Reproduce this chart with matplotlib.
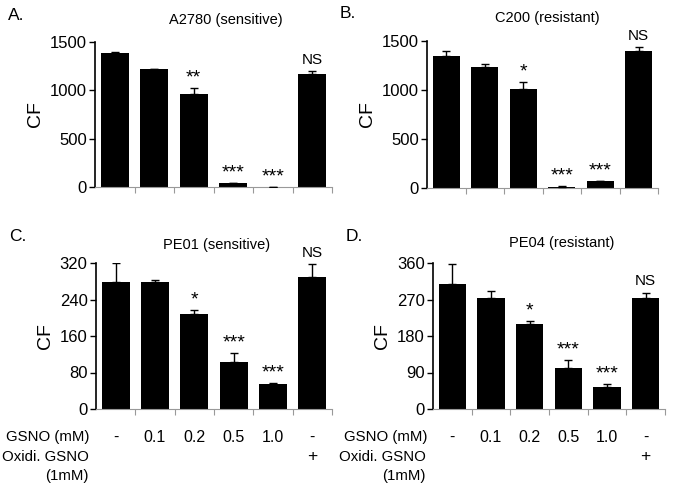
import matplotlib.pyplot as plt
import numpy as np

plt.rcParams['font.family'] = ['Liberation Sans', 'DejaVu Sans']

# values
a_vals = [1390, 1217, 962, 45, 3, 1169]
a_err = [10, 8, 62, 0, 0, 28]
a_sig = ['', '', '**', '***', '***', 'NS']

b_vals = [1349, 1233, 1014, 15, 72, 1400]
b_err = [51, 31, 69, 10, 0, 38]
b_sig = ['', '', '*', '***', '***', 'NS']

c_vals = [278, 278, 209, 104, 55, 289]
c_err = [43, 5, 9, 18, 3, 29]
c_sig = ['', '', '*', '***', '***', 'NS']

d_vals = [308, 273, 210, 102, 54, 273]
d_err = [50, 17, 6, 18, 7, 14]
d_sig = ['', '', '*', '***', '***', 'NS']

gsno = ['-', '0.1', '0.2', '0.5', '1.0', '-']
oxidi = ['', '', '', '', '', '+']

panels = [
    ('A.', 'A2780 (sensitive)', a_vals, a_err, a_sig, [0, 500, 1000, 1500], False),
    ('B.', 'C200 (resistant)', b_vals, b_err, b_sig, [0, 500, 1000, 1500], False),
    ('C.', 'PE01 (sensitive)', c_vals, c_err, c_sig, [0, 80, 160, 240, 320], True),
    ('D.', 'PE04 (resistant)', d_vals, d_err, d_sig, [0, 90, 180, 270, 360], True),
]

# axes rectangles in pixels: left, right, top, bottom; plus title centre
boxes = [(95, 332, 42, 187), (427, 658, 41, 188), (96, 332, 263, 409), (433, 665, 263, 409)]
title_pos = [(226, 20), (547, 18), (217, 245), (562, 243)]
W, H = 675, 491

fig = plt.figure(figsize=(6.75, 4.91), dpi=100)

for (letter, title, vals, err, sig, ticks, bottom), (l, r, t, b), (tx, ty) in zip(panels, boxes, title_pos):
    ax = fig.add_axes([l / W, 1 - b / H, (r - l) / W, (b - t) / H])
    x = np.arange(6)
    ax.bar(x, vals, width=0.71, color='black', zorder=2)
    ax.errorbar(x, vals, yerr=[np.zeros(6), err], fmt='none', ecolor='black',
                elinewidth=1, capsize=3, capthick=1, zorder=3)
    ymax = ticks[-1]
    for xi, v, e, s in zip(x, vals, err, sig):
        if s.startswith('*'):
            ax.text(xi, v + e + 0.01 * ymax, s, ha='center', va='bottom', fontsize=14)
        elif s:
            ax.text(xi, v + e + 0.03 * ymax, s, ha='center', va='bottom', fontsize=11)
    ax.set_xlim(-0.5, 5.5)
    ax.set_ylim(0, ymax)
    ax.set_yticks(ticks)
    ax.tick_params(axis='y', labelsize=12, length=4, width=1, direction='out', pad=2)
    ax.set_xticks(np.arange(0.5, 5.6, 1))
    ax.set_xticklabels([])
    ax.tick_params(axis='x', length=4, color='#999999', width=0.8)
    ax.spines['top'].set_visible(False)
    ax.spines['right'].set_visible(False)
    ax.spines['bottom'].set_color('#999999')
    ax.spines['bottom'].set_linewidth(0.8)
    ax.spines['left'].set_linewidth(1.2)
    ax.set_ylabel('CF', fontsize=14, labelpad=4)

    fig.text(tx / W, 1 - ty / H, title, fontsize=10.5, ha='center', va='center')
    fig.text((l - 87) / W, 1 - (t - 27) / H, letter, fontsize=12.5, ha='left', va='center')

    if bottom:
        y1 = 1 - 437 / H
        y2 = 1 - 457 / H
        y3 = 1 - 476 / H
        fig.text((l - 6) / W, y1, 'GSNO (mM)', fontsize=10.8, ha='right', va='center')
        fig.text((l - 7) / W, y2, 'Oxidi. GSNO', fontsize=10.8, ha='right', va='center')
        fig.text((l - 7) / W, y3, '(1mM)', fontsize=10.8, ha='right', va='center')
        for i in range(6):
            xc = l + (i + 0.5) * (r - l) / 6
            fig.text(xc / W, y1, gsno[i], fontsize=11.5, ha='center', va='center')
            if oxidi[i]:
                fig.text(xc / W, y2, oxidi[i], fontsize=12.5, ha='center', va='center')

fig.savefig('out.png', dpi=100)
